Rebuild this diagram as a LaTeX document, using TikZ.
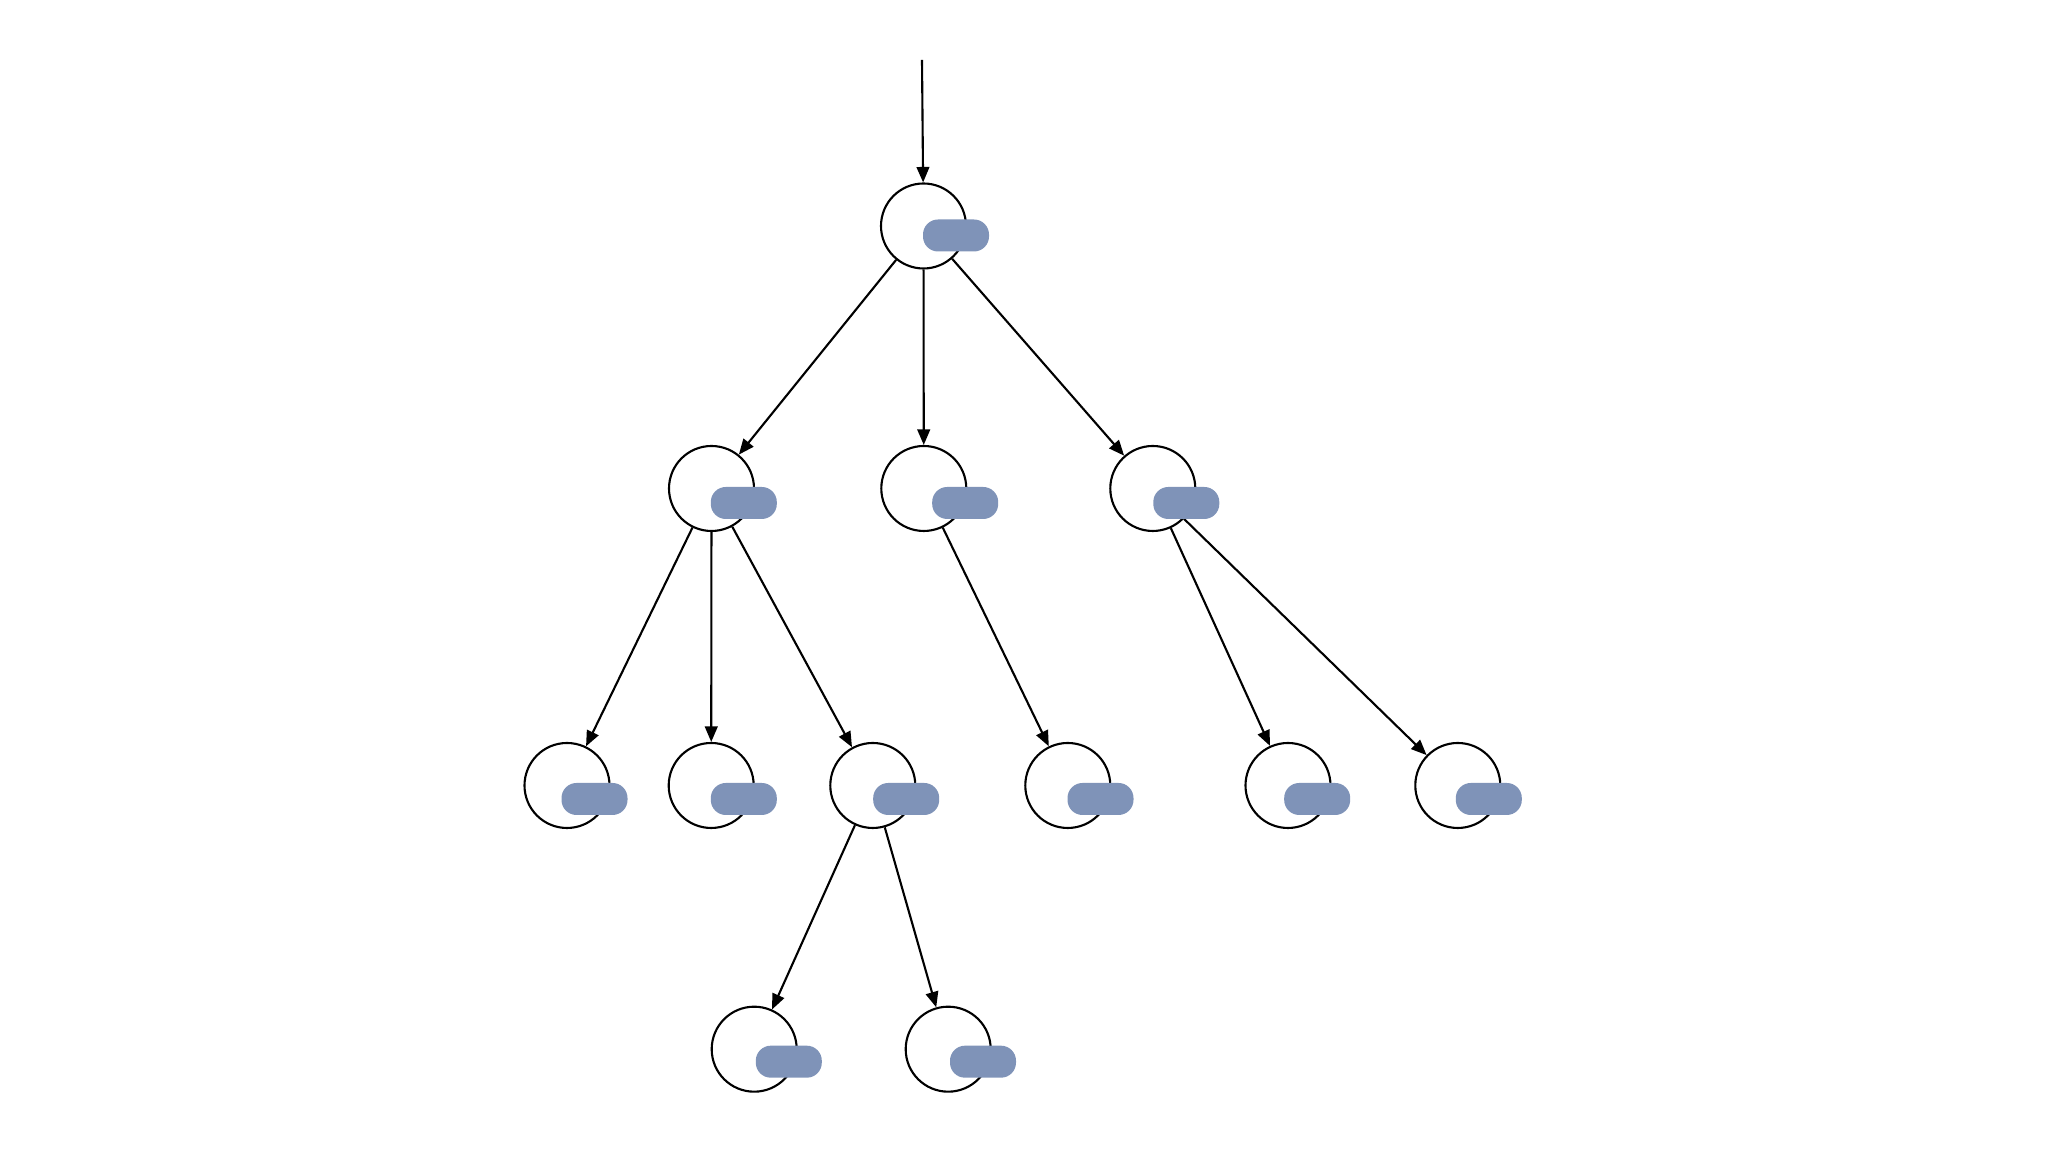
\documentclass[tikz,border=0pt]{standalone}
\usetikzlibrary{arrows.meta}
\definecolor{tagblue}{HTML}{7F93B8}
\begin{document}
\begin{tikzpicture}[
    vertex/.style={circle, draw, line width=0.6pt, minimum size=0.85cm, inner sep=0pt},
    tag/.style={rectangle, fill=tagblue, rounded corners=0.15cm, minimum width=0.66cm, minimum height=0.32cm, inner sep=0pt},
    link/.style={line width=0.6pt, -{Triangle[length=4.4pt,width=3.6pt]}}]
    \useasboundingbox (0,0) rectangle (20.48,11.52);
    \coordinate (S) at (9.22,10.92);
    \node[vertex] (A) at (9.235,9.26) {};
    \node[vertex] (B1) at (7.115,6.635) {};
    \node[vertex] (B2) at (9.238,6.635) {};
    \node[vertex] (B3) at (11.528,6.635) {};
    \node[vertex] (C1) at (5.67,3.665) {};
    \node[vertex] (C2) at (7.112,3.665) {};
    \node[vertex] (C3) at (8.728,3.665) {};
    \node[vertex] (C4) at (10.678,3.665) {};
    \node[vertex] (C5) at (12.88,3.665) {};
    \node[vertex] (C6) at (14.578,3.665) {};
    \node[vertex] (D1) at (7.542,1.028) {};
    \node[vertex] (D2) at (9.482,1.028) {};
    \draw[link] (S) -- (A);
    \draw[link] (A) -- (B1);
    \draw[link] (A) -- (B2);
    \draw[link] (A) -- (B3);
    \draw[link] (B1) -- (C1);
    \draw[link] (B1) -- (C2);
    \draw[link] (B1) -- (C3);
    \draw[link] (B2) -- (C4);
    \draw[link] (B3) -- (C5);
    \draw[link] (B3) -- (C6);
    \draw[link] (C3) -- (D1);
    \draw[link] (C3) -- (D2);
    \node[tag] (tA) at (9.56,9.165) {};
    \node[tag] (tB1) at (7.438,6.49) {};
    \node[tag] (tB2) at (9.652,6.49) {};
    \node[tag] (tB3) at (11.863,6.49) {};
    \node[tag] (tC1) at (5.945,3.53) {};
    \node[tag] (tC2) at (7.438,3.53) {};
    \node[tag] (tC3) at (9.062,3.53) {};
    \node[tag] (tC4) at (11.005,3.53) {};
    \node[tag] (tC5) at (13.172,3.53) {};
    \node[tag] (tC6) at (14.888,3.53) {};
    \node[tag] (tD1) at (7.888,0.903) {};
    \node[tag] (tD2) at (9.83,0.903) {};
  \end{tikzpicture}
\end{document}
